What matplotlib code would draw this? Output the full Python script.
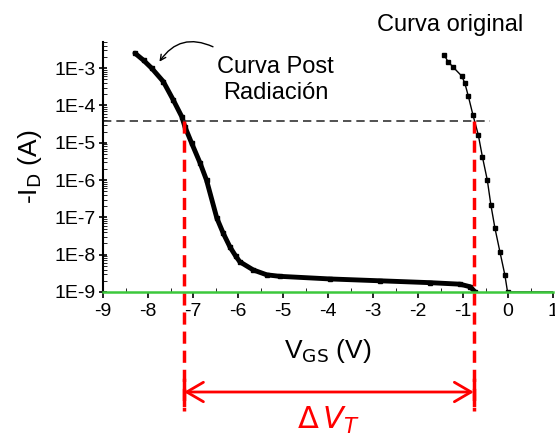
import matplotlib
matplotlib.use("Agg")
import matplotlib.pyplot as plt
import numpy as np
from matplotlib.ticker import FixedLocator, LogLocator, NullFormatter

# post-radiation curve (V_GS, log10 of -I_D)
post_v = [-8.29, -8.10, -7.92, -7.66, -7.44, -7.25, -7.18, -7.03, -6.84,
          -6.70, -6.47, -6.33, -6.18, -6.05, -5.96, -5.66, -5.36, -5.07,
          -3.96, -2.84, -1.73, -1.07, -0.84, -0.73]
post_log = [-2.60, -2.79, -3.00, -3.36, -3.85, -4.30, -4.57, -5.01, -5.55,
            -6.00, -7.02, -7.42, -7.79, -8.04, -8.19, -8.41, -8.54, -8.58,
            -8.65, -8.70, -8.75, -8.79, -8.86, -9.00]

# original curve
orig_v = [-1.42, -1.33, -1.23, -1.03, -0.96, -0.88, -0.78, -0.66, -0.57,
          -0.46, -0.38, -0.29, -0.18, -0.07, -0.01, 0.5, 1.0]
orig_log = [-2.65, -2.83, -2.96, -3.21, -3.40, -3.76, -4.25, -4.79, -5.37,
            -6.00, -6.67, -7.29, -7.92, -8.54, -9.00, -9.00, -9.00]

x_ticks = [-9, -8, -7, -6, -5, -4, -3, -2, -1, 0, 1]
y_exps = [-9, -8, -7, -6, -5, -4, -3]
y_labels = ["1E-9", "1E-8", "1E-7", "1E-6", "1E-5", "1E-4", "1E-3"]

i_th = 3.8e-5          # current level used to read V_T
vt_post = -7.2
vt_orig = -0.76

plt.rcParams['font.family'] = ['Liberation Sans', 'DejaVu Sans']

fig = plt.figure(figsize=(5.55, 4.4), dpi=100)
ax = fig.add_axes([103 / 555, 148 / 440, 450 / 555, 250 / 440])

ax.plot(post_v, 10.0 ** np.array(post_log), color='black', lw=3.5,
        marker='s', ms=3, solid_capstyle='round', solid_joinstyle='round')
ax.plot(orig_v, 10.0 ** np.array(orig_log), color='black', lw=1,
        marker='s', ms=2.8, markevery=list(range(15)))

ax.set_yscale('log')
ax.set_xlim(-9, 1)
ax.set_ylim(1e-9, 10 ** -2.3)

ax.xaxis.set_major_locator(FixedLocator(x_ticks))
ax.xaxis.set_minor_locator(FixedLocator(np.arange(-8.5, 1, 1.0)))
ax.set_xticklabels([str(t) for t in x_ticks])
ax.yaxis.set_major_locator(FixedLocator([10.0 ** e for e in y_exps]))
ax.yaxis.set_minor_locator(LogLocator(base=10, subs=np.arange(2, 10)))
ax.yaxis.set_minor_formatter(NullFormatter())
ax.set_yticklabels(y_labels)

ax.tick_params(axis='both', which='major', labelsize=14, width=1.2)
ax.tick_params(axis='x', which='major', direction='out', length=4, pad=4)
ax.tick_params(axis='x', which='minor', direction='in', length=3)
ax.tick_params(axis='y', which='major', direction='inout', length=6, pad=2)
ax.tick_params(axis='y', which='minor', direction='in', length=3)

for s in ['top', 'right']:
    ax.spines[s].set_visible(False)
ax.spines['left'].set_linewidth(1.5)
ax.spines['bottom'].set_linewidth(1.8)
ax.spines['bottom'].set_color('#3cc83c')

ax.set_xlabel(r'V$_{\mathrm{GS}}$ (V)', fontsize=19, labelpad=12)
ax.set_ylabel(r'-I$_{\mathrm{D}}$ (A)', fontsize=19, labelpad=8)

# threshold reading
ax.plot([-9, -0.4], [i_th, i_th], color='#333333', lw=1.2,
        dashes=(5, 3), clip_on=False)
xtr = ax.get_xaxis_transform()
for vt in [vt_post, vt_orig]:
    ax.plot([vt, vt], [i_th, 10 ** -12.2], color='red', lw=2.5,
            dashes=(3.5, 2), clip_on=False)
    ax.plot([vt, vt], [-0.35, -0.45], color='red', lw=2.5,
            transform=xtr, clip_on=False)

ax.annotate('', xy=(vt_post, -0.4), xytext=(vt_orig, -0.4),
            xycoords=xtr, textcoords=xtr,
            arrowprops=dict(arrowstyle='<->, head_length=0.6, head_width=0.35',
                            color='red', lw=2, shrinkA=0, shrinkB=0,
                            mutation_scale=20))
ax.text((vt_post + vt_orig) / 2, -0.515, r'$\Delta\, V_T$', color='red',
        fontsize=22, ha='center', va='center', transform=xtr)

ax.text(-5.16, 10 ** -3.32, 'Curva Post\nRadiación', fontsize=17,
        ha='center', va='center', linespacing=1.25)
ax.text(-1.29, 10 ** -1.84, 'Curva original', fontsize=17,
        ha='center', va='center', clip_on=False)
ax.annotate('', xy=(-7.78, 10 ** -2.89), xytext=(-6.5, 10 ** -2.46),
            arrowprops=dict(arrowstyle='->', color='black', lw=1,
                            connectionstyle='arc3,rad=0.45'))

fig.savefig('out.png', dpi=100)
